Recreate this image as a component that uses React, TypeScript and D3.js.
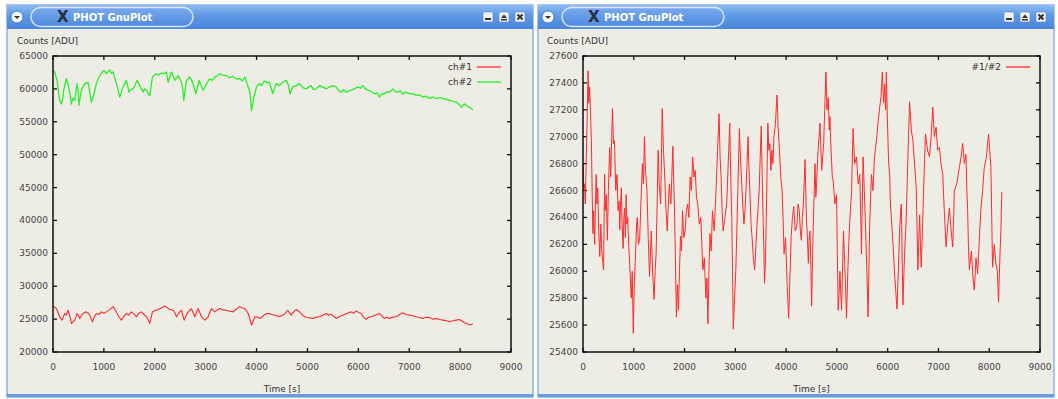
import { useEffect, useRef } from "react";
import * as d3 from "d3";

// time axis / count axes
const timeTicks = [0, 1000, 2000, 3000, 4000, 5000, 6000, 7000, 8000, 9000];
const countTicks = [20000, 25000, 30000, 35000, 40000, 45000, 50000, 55000, 60000, 65000];
const ratioTicks = [25400, 25600, 25800, 26000, 26200, 26400, 26600, 26800, 27000, 27200, 27400, 27600];

// ch#1 [time s, counts]
const ch1: [number, number][] = [
  [0, 27000], [30, 26800], [66, 26600], [100, 26000], [131, 25350], [177, 24850], [200, 25300], [229, 25850],
  [260, 25600], [295, 26350], [330, 25500], [361, 24350], [395, 24600], [426, 24850], [450, 25300], [472, 25850],
  [500, 25500], [525, 25100], [560, 25600], [590, 25850], [620, 26000], [656, 26100], [690, 25900], [721, 25600],
  [774, 24600], [810, 25300], [852, 25850], [900, 25700], [951, 26100], [1000, 25900], [1049, 26100], [1110, 26400],
  [1180, 26900], [1215, 26500], [1246, 26100], [1290, 25400], [1344, 24850], [1390, 25400], [1443, 25850],
  [1490, 25600], [1541, 26100], [1590, 25800], [1639, 25350], [1690, 25900], [1738, 26100], [1790, 25700],
  [1836, 25350], [1870, 24900], [1902, 24350], [1954, 26100], [2010, 26300], [2066, 26450], [2130, 26700],
  [2197, 27000], [2250, 26700], [2295, 26450], [2361, 26350], [2400, 25900], [2426, 25350], [2470, 25900],
  [2525, 26350], [2550, 25600], [2577, 24850], [2620, 25600], [2656, 26100], [2721, 26600], [2750, 26000],
  [2787, 25350], [2820, 26000], [2852, 26600], [2890, 25900], [2918, 25350], [2983, 24850], [3049, 25350],
  [3080, 26000], [3115, 26600], [3180, 26100], [3230, 26400], [3279, 26600], [3340, 26400], [3410, 26350],
  [3470, 26200], [3541, 26100], [3600, 26500], [3672, 26900], [3720, 26700], [3770, 26600], [3800, 26300],
  [3836, 25850], [3870, 25000], [3902, 24100], [3967, 25350], [4020, 25300], [4066, 25100], [4130, 25500],
  [4197, 25850], [4252, 25850], [4300, 25700], [4351, 25600], [4400, 25500], [4449, 25350], [4500, 25600],
  [4548, 25750], [4613, 26350], [4679, 25600], [4730, 26100], [4777, 26450], [4830, 26200], [4875, 25850],
  [4920, 25500], [4974, 25250], [5040, 25200], [5105, 25100], [5170, 25300], [5236, 25350], [5300, 25600],
  [5367, 25850], [5420, 25600], [5466, 25750], [5520, 25400], [5564, 25100], [5630, 25400], [5695, 25600],
  [5780, 25900], [5859, 26100], [5910, 25900], [5957, 26250], [6010, 26000], [6056, 25850], [6100, 25300],
  [6154, 24950], [6200, 25300], [6252, 25350], [6330, 25600], [6416, 25850], [6470, 25400], [6515, 25100],
  [6560, 25300], [6613, 25100], [6680, 25300], [6744, 25350], [6810, 25700], [6875, 25950], [6940, 25700],
  [7006, 25600], [7070, 25500], [7138, 25350], [7200, 25250], [7269, 25100], [7330, 25300], [7400, 25250],
  [7460, 25000], [7531, 25100], [7600, 24950], [7662, 24850], [7730, 24750], [7793, 24600], [7860, 24750],
  [7924, 24850], [7990, 24950], [8040, 24700], [8088, 24450], [8140, 24300], [8187, 24100], [8252, 24250],
];

// ch#2 [time s, counts]
const ch2: [number, number][] = [
  [0, 62800], [33, 62560], [79, 61300], [131, 58250], [164, 57700], [190, 58500], [210, 59800], [262, 61550],
  [308, 60300], [340, 59000], [361, 57700], [395, 58600], [426, 58250], [472, 60800], [495, 59600], [511, 57500],
  [535, 58800], [557, 59800], [590, 60300], [623, 60800], [688, 61000], [720, 59700], [754, 58000], [807, 59250],
  [852, 60800], [885, 61500], [918, 62000], [960, 62500], [1003, 62800], [1049, 62300], [1080, 62600],
  [1115, 62900], [1150, 62400], [1180, 62560], [1246, 60800], [1280, 59800], [1311, 58750], [1377, 60300],
  [1410, 60800], [1443, 61300], [1495, 59500], [1530, 59900], [1574, 60000], [1610, 60500], [1652, 61300],
  [1705, 60500], [1770, 59500], [1800, 60000], [1836, 59800], [1870, 59300], [1902, 59000], [1954, 61800],
  [2000, 62100], [2033, 62300], [2080, 62100], [2131, 62400], [2180, 62300], [2229, 62560], [2262, 61000],
  [2328, 62560], [2393, 61300], [2459, 62000], [2525, 61000], [2550, 60000], [2570, 58250], [2623, 61300],
  [2688, 61800], [2754, 60800], [2806, 59250], [2872, 61300], [2910, 60500], [2951, 59800], [3016, 60800],
  [3082, 61550], [3130, 61300], [3180, 61800], [3230, 62000], [3279, 62300], [3340, 62100], [3410, 62000],
  [3470, 61700], [3541, 61900], [3600, 61500], [3672, 61550], [3720, 61200], [3770, 61800], [3836, 60300],
  [3870, 59500], [3902, 56700], [3948, 58750], [4000, 60300], [4050, 60800], [4098, 60500], [4150, 61200],
  [4197, 61000], [4252, 61000], [4285, 60200], [4318, 59250], [4350, 60000], [4384, 60800], [4449, 60500],
  [4515, 61000], [4580, 61300], [4620, 60700], [4659, 59250], [4711, 60300], [4780, 60500], [4843, 60800],
  [4910, 60200], [4974, 60000], [5072, 60500], [5120, 59900], [5170, 60000], [5240, 60500], [5302, 60300],
  [5370, 60000], [5433, 60300], [5500, 60500], [5564, 60300], [5610, 59800], [5662, 59500], [5710, 59900],
  [5761, 59500], [5859, 59800], [5920, 60000], [5990, 60300], [6040, 60100], [6089, 60500], [6140, 60000],
  [6187, 59800], [6250, 59600], [6318, 59250], [6370, 59400], [6416, 58750], [6470, 59300], [6515, 59250],
  [6570, 59600], [6613, 59500], [6679, 60000], [6730, 59600], [6777, 59500], [6830, 59700], [6875, 59250],
  [6940, 59500], [7006, 59250], [7070, 59300], [7138, 59000], [7200, 59100], [7269, 58750], [7330, 58900],
  [7400, 58500], [7460, 58800], [7531, 58500], [7600, 58700], [7662, 58500], [7730, 58400], [7793, 58250],
  [7860, 58100], [7924, 58000], [7970, 57700], [8023, 57200], [8088, 57700], [8140, 57400], [8187, 57200],
  [8252, 56800],
];

// #1/#2 [time s, value]
const ratio: [number, number][] = [
  [0, 26800], [15, 26600], [30, 26650], [45, 26500], [60, 26770], [80, 27100], [100, 27490], [115, 27250],
  [130, 27370], [150, 27150], [165, 26970], [180, 26600], [195, 26280], [210, 26450], [230, 26200], [245, 26500],
  [260, 26720], [275, 26500], [290, 26620], [310, 26300], [330, 26110], [350, 26350], [370, 26150], [405, 26010],
  [426, 26720], [440, 26450], [459, 26570], [480, 26230], [500, 26600], [525, 26920], [545, 26700], [580, 27210],
  [600, 26950], [620, 26970], [645, 26600], [670, 26720], [690, 26450], [710, 26520], [725, 26310], [740, 26500],
  [755, 26620], [770, 26350], [790, 26170], [805, 26400], [820, 26470], [835, 26250], [850, 26570], [865, 26350],
  [880, 26400], [900, 26200], [920, 26060], [950, 25800], [970, 26000], [990, 25540], [1010, 25900],
  [1040, 26180], [1055, 26350], [1070, 26400], [1090, 26200], [1115, 26230], [1140, 26500], [1170, 26800],
  [1190, 26650], [1210, 27000], [1230, 26750], [1260, 26600], [1285, 26250], [1310, 25960], [1330, 26150],
  [1345, 26300], [1370, 26000], [1400, 25790], [1420, 26000], [1440, 26130], [1460, 26500], [1480, 26900],
  [1500, 26650], [1530, 26500], [1545, 26850], [1560, 27210], [1585, 26900], [1610, 26700], [1635, 26450],
  [1660, 26300], [1680, 26500], [1700, 26650], [1730, 26500], [1770, 26930], [1785, 26700], [1800, 26500],
  [1820, 26100], [1840, 25660], [1860, 25900], [1880, 25710], [1900, 26000], [1920, 26260], [1940, 26150],
  [1960, 26450], [1985, 26250], [2010, 26300], [2035, 26450], [2060, 26500], [2085, 26400], [2110, 26700],
  [2135, 26600], [2160, 26850], [2185, 26700], [2210, 26750], [2235, 26550], [2260, 26500], [2290, 26350],
  [2320, 26400], [2340, 26200], [2360, 26010], [2390, 26100], [2420, 25800], [2440, 25950], [2460, 25610],
  [2480, 26000], [2500, 26280], [2525, 26150], [2550, 26450], [2585, 26300], [2620, 26600], [2650, 26900],
  [2680, 27170], [2700, 26850], [2720, 26700], [2740, 26450], [2760, 26300], [2795, 26400], [2830, 26500],
  [2860, 26800], [2890, 27100], [2910, 26700], [2930, 26400], [2945, 26000], [2960, 25570], [2985, 25800],
  [3010, 26010], [3030, 26300], [3050, 26600], [3065, 26850], [3080, 27060], [3100, 26850], [3120, 26700],
  [3145, 26500], [3170, 26350], [3190, 26450], [3210, 26600], [3230, 26800], [3250, 27000], [3270, 26750],
  [3290, 26550], [3310, 26350], [3330, 26250], [3355, 26100], [3380, 26010], [3400, 26150], [3420, 26300],
  [3445, 26450], [3470, 26600], [3490, 26850], [3510, 27080], [3525, 26800], [3540, 26500], [3560, 26200],
  [3575, 25910], [3595, 26100], [3610, 26400], [3625, 26750], [3640, 27100], [3660, 26900], [3680, 26950],
  [3700, 26750], [3720, 26900], [3740, 26800], [3760, 27000], [3790, 27100], [3820, 27310], [3845, 27050],
  [3870, 26900], [3895, 26700], [3920, 26600], [3940, 26400], [3960, 26130], [3990, 26250], [4020, 25900],
  [4050, 25650], [4075, 25950], [4100, 26260], [4125, 26400], [4150, 26480], [4180, 26300], [4209, 26330],
  [4235, 26500], [4260, 26450], [4280, 26300], [4300, 26230], [4320, 26400], [4340, 26500], [4373, 26830],
  [4400, 26400], [4420, 26250], [4438, 26060], [4455, 26250], [4470, 26300], [4490, 26000], [4503, 25740],
  [4515, 26000], [4530, 26260], [4550, 26550], [4569, 26800], [4585, 26550], [4600, 26650], [4630, 26900],
  [4667, 27100], [4685, 26900], [4700, 26750], [4720, 26850], [4740, 26950], [4760, 27200], [4784, 27480],
  [4805, 27200], [4830, 27290], [4850, 27050], [4863, 27150], [4880, 26950], [4895, 26820], [4910, 26700],
  [4928, 26670], [4960, 26500], [4993, 26570], [5010, 26100], [5026, 25710], [5045, 25850], [5060, 26000],
  [5075, 25850], [5092, 25710], [5110, 26000], [5130, 26300], [5160, 26000], [5190, 25650], [5215, 26000],
  [5240, 26260], [5265, 26450], [5290, 26600], [5305, 26850], [5320, 27060], [5350, 26800], [5386, 26850],
  [5420, 26650], [5451, 26720], [5470, 26400], [5484, 26130], [5500, 26500], [5516, 26850], [5540, 26600],
  [5560, 26380], [5590, 26000], [5614, 25660], [5630, 26000], [5645, 26330], [5660, 26500], [5680, 26720],
  [5710, 26600], [5740, 26850], [5778, 26970], [5810, 27100], [5843, 27220], [5870, 27300], [5895, 27480],
  [5920, 27250], [5941, 27390], [5960, 27200], [5974, 27480], [5990, 27200], [6006, 26970], [6020, 26800],
  [6039, 26720], [6055, 26500], [6072, 26400], [6105, 26200], [6137, 25980], [6160, 25850], [6183, 25720],
  [6210, 26000], [6235, 26300], [6255, 26450], [6270, 26500], [6285, 26100], [6301, 25750], [6330, 26100],
  [6366, 26400], [6395, 26800], [6431, 27260], [6465, 27050], [6497, 26970], [6530, 26800], [6562, 26620],
  [6580, 26300], [6595, 26010], [6615, 26250], [6630, 26420], [6645, 26200], [6660, 26030], [6680, 26250],
  [6700, 26500], [6720, 26750], [6745, 27020], [6785, 26900], [6824, 26850], [6855, 27000], [6889, 27220],
  [6920, 27000], [6954, 27070], [6985, 26900], [7020, 26920], [7050, 26800], [7085, 26720], [7115, 26450],
  [7150, 26180], [7185, 26350], [7216, 26470], [7250, 26300], [7281, 26180], [7300, 26400], [7314, 26600],
  [7360, 26650], [7412, 26770], [7445, 26850], [7477, 26950], [7510, 26800], [7542, 26870], [7560, 26600],
  [7575, 26450], [7590, 26200], [7608, 26010], [7650, 26150], [7680, 25950], [7706, 25860], [7740, 26100],
  [7771, 25980], [7800, 26200], [7837, 26470], [7870, 26600], [7902, 26770], [7945, 26850], [7987, 27020],
  [8010, 26900], [8033, 26770], [8050, 26400], [8065, 26030], [8100, 26200], [8131, 26060], [8160, 26000],
  [8183, 25770], [8210, 26100], [8230, 26300], [8248, 26590],
];

const FONT = "'DejaVu Sans', Verdana, sans-serif";

function drawWindow(svg: any, x0: number, x1: number) {
  const top = 5, barH = 24, bottom = 397;
  // frame + content
  svg.append("rect").attr("x", x0).attr("y", top).attr("width", x1 - x0).attr("height", bottom - top)
    .attr("fill", "#eeede5").attr("stroke", "#8fb3e6").attr("stroke-width", 1.5);
  svg.append("rect").attr("x", x0).attr("y", bottom - 3).attr("width", x1 - x0).attr("height", 3)
    .attr("fill", "#6a9be0");
  // title bar
  svg.append("path")
    .attr("d", `M${x0},${top + barH} L${x0},${top + 5} Q${x0},${top} ${x0 + 5},${top} L${x1 - 5},${top} Q${x1},${top} ${x1},${top + 5} L${x1},${top + barH} Z`)
    .attr("fill", "url(#titleGrad)");
  // pill
  svg.append("rect").attr("x", x0 + 24).attr("y", top + 2.5).attr("width", 162).attr("height", 19)
    .attr("rx", 9.5).attr("fill", "url(#pillGrad)").attr("stroke", "#dbe8fa").attr("stroke-width", 1.4);
  svg.append("text").attr("x", x0 + 50).attr("y", top + 17).attr("font-family", FONT)
    .attr("font-size", 15).attr("font-weight", "bold").attr("fill", "#2a2f3a").text("X");
  svg.append("text").attr("x", x0 + 66).attr("y", top + 15.5).attr("font-family", FONT)
    .attr("font-size", 10).attr("font-weight", "bold").attr("fill", "#ffffff").text("PHOT GnuPlot");
  // menu button
  svg.append("circle").attr("cx", x0 + 10).attr("cy", top + 12).attr("r", 6)
    .attr("fill", "#f4f7fc").attr("stroke", "#3b6fc0").attr("stroke-width", 0.8);
  svg.append("path").attr("d", `M${x0 + 7},${top + 11} L${x0 + 13},${top + 11} L${x0 + 10},${top + 14} Z`)
    .attr("fill", "#333");
  // right buttons
  const bx = [x1 - 50, x1 - 34, x1 - 18];
  bx.forEach((b, i) => {
    svg.append("rect").attr("x", b).attr("y", top + 7).attr("width", 10).attr("height", 10).attr("rx", 1.5)
      .attr("fill", "#eef2f8").attr("stroke", "#5a86c8").attr("stroke-width", 0.6);
    if (i === 0) svg.append("rect").attr("x", b + 2).attr("y", top + 13).attr("width", 6).attr("height", 2).attr("fill", "#333");
    if (i === 1) svg.append("path").attr("d", `M${b + 2},${top + 13} L${b + 8},${top + 13} L${b + 5},${top + 9.5} Z M${b + 2},${top + 14} h6 v1.5 h-6 Z`).attr("fill", "#333");
    if (i === 2) svg.append("path").attr("d", `M${b + 2.5},${top + 9.5} L${b + 7.5},${top + 14.5} M${b + 7.5},${top + 9.5} L${b + 2.5},${top + 14.5}`)
      .attr("stroke", "#333").attr("stroke-width", 2);
  });
}

function drawPlot(svg: any, box: { l: number; t: number; r: number; b: number }, yDomain: [number, number],
  yTicks: number[], series: { data: [number, number][]; color: string; label: string; width: number }[], labelX: number) {
  const x = d3.scaleLinear().domain([0, 9000]).range([box.l, box.r]);
  const y = d3.scaleLinear().domain(yDomain).range([box.b, box.t]);
  const g = svg.append("g");

  g.append("text").attr("x", labelX).attr("y", 44).attr("font-family", FONT).attr("font-size", 9)
    .attr("fill", "#333").text("Counts [ADU]");
  g.append("text").attr("x", (box.l + box.r) / 2).attr("y", 392).attr("text-anchor", "middle")
    .attr("font-family", FONT).attr("font-size", 9).attr("fill", "#333").text("Time [s]");

  // ticks on all four sides, inward
  const tk = 4;
  timeTicks.forEach((t) => {
    g.append("line").attr("x1", x(t)).attr("x2", x(t)).attr("y1", box.b).attr("y2", box.b - tk).attr("stroke", "#111").attr("stroke-width", 1.3);
    g.append("line").attr("x1", x(t)).attr("x2", x(t)).attr("y1", box.t).attr("y2", box.t + tk).attr("stroke", "#111").attr("stroke-width", 1.3);
    g.append("text").attr("x", x(t)).attr("y", 370).attr("text-anchor", "middle").attr("font-family", FONT)
      .attr("font-size", 9).attr("fill", "#444").text(t);
  });
  yTicks.forEach((v) => {
    g.append("line").attr("x1", box.l).attr("x2", box.l + tk).attr("y1", y(v)).attr("y2", y(v)).attr("stroke", "#111").attr("stroke-width", 1.3);
    g.append("line").attr("x1", box.r).attr("x2", box.r - tk).attr("y1", y(v)).attr("y2", y(v)).attr("stroke", "#111").attr("stroke-width", 1.3);
    g.append("text").attr("x", box.l - 5).attr("y", y(v) + 3).attr("text-anchor", "end").attr("font-family", FONT)
      .attr("font-size", 9).attr("fill", "#444").text(v);
  });

  const line = d3.line<[number, number]>().x((d) => x(d[0])).y((d) => y(d[1]));
  series.forEach((s, i) => {
    g.append("path").datum(s.data).attr("d", line).attr("fill", "none").attr("stroke", s.color)
      .attr("stroke-width", s.width).attr("stroke-linejoin", "round");
    const ly = box.t + 11 + i * 15;
    g.append("text").attr("x", box.r - 39).attr("y", ly + 3).attr("text-anchor", "end").attr("font-family", FONT)
      .attr("font-size", 9).attr("fill", "#333").text(s.label);
    g.append("line").attr("x1", box.r - 34).attr("x2", box.r - 10).attr("y1", ly).attr("y2", ly)
      .attr("stroke", s.color).attr("stroke-width", 1.3);
  });

  g.append("rect").attr("x", box.l).attr("y", box.t).attr("width", box.r - box.l).attr("height", box.b - box.t)
    .attr("fill", "none").attr("stroke", "#111").attr("stroke-width", 1.5);
}

export default function App() {
  const ref = useRef(null);

  useEffect(() => {
    const svg = d3.select(ref.current)
      .append("svg")
        .attr("width", 1058)
        .attr("height", 399)
        .style("position", "absolute")
        .style("left", "0px")
        .style("top", "0px")
        .style("background", "#ffffff");

    const defs = svg.append("defs");
    const tg = defs.append("linearGradient").attr("id", "titleGrad").attr("x1", 0).attr("x2", 0).attr("y1", 0).attr("y2", 1);
    tg.append("stop").attr("offset", "0%").attr("stop-color", "#8dbcf2");
    tg.append("stop").attr("offset", "45%").attr("stop-color", "#5e98e4");
    tg.append("stop").attr("offset", "100%").attr("stop-color", "#4a86da");
    const pg = defs.append("linearGradient").attr("id", "pillGrad").attr("x1", 0).attr("x2", 0).attr("y1", 0).attr("y2", 1);
    pg.append("stop").attr("offset", "0%").attr("stop-color", "#79aaee");
    pg.append("stop").attr("offset", "100%").attr("stop-color", "#4f8ade");

    drawWindow(svg, 7, 533);
    drawWindow(svg, 538, 1054);

    drawPlot(svg, { l: 53, t: 56, r: 511, b: 352 }, [20000, 65000], countTicks, [
      { data: ch1, color: "#ff2a2a", label: "ch#1", width: 1.1 },
      { data: ch2, color: "#2aee2a", label: "ch#2", width: 1.3 },
    ], 17);

    drawPlot(svg, { l: 583, t: 56, r: 1040, b: 352 }, [25400, 27600], ratioTicks, [
      { data: ratio, color: "#ff2a2a", label: "#1/#2", width: 1 },
    ], 547);

    return () => {
      d3.select(ref.current).selectAll("*").remove();
    };
  }, [ref]);

  return <div ref={ref} />;
}
